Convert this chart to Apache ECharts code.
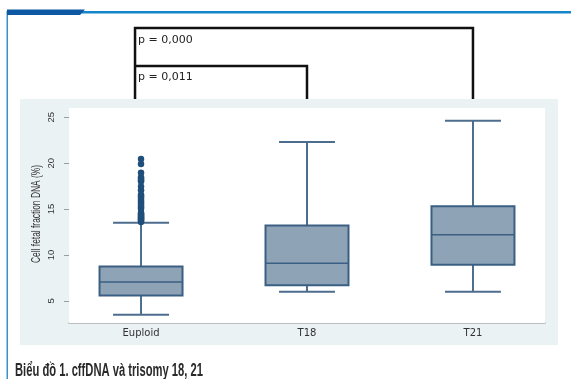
<!DOCTYPE html>
<html>
<head>
<meta charset="utf-8">
<script src="https://cdn.jsdelivr.net/npm/echarts@6/dist/echarts.min.js"></script>
<style>html,body{margin:0;padding:0;background:#fff;}#c{width:571px;height:379px;}</style>
</head>
<body>
<div id="c"></div>
<script>
// ---- data ----
const categories = ['Euploid', 'T18', 'T21'];
const categoryPos = [1, 2, 3];
// [min, Q1, median, Q3, max]
const euploidBox = [3.5, 5.6, 7.05, 8.75, 13.5];
const t18Box = [6.0, 6.7, 9.1, 13.2, 22.3];
const t21Box = [6.0, 8.95, 12.2, 15.3, 24.6];
const euploidOutliers = [13.6, 13.7, 13.8, 13.9, 14.0, 14.1, 14.2, 14.3, 14.4, 14.5, 14.6,
  15.0, 15.2, 15.4, 15.6, 15.8, 16.0, 16.2, 16.4, 16.55, 17.05, 17.45, 18.0, 18.15, 18.3, 18.45, 18.95, 19.9, 20.45];
const yTicks = [5, 10, 15, 20, 25];
const pValues = ['p = 0,000', 'p = 0,011'];
const yTitle = 'Cell fetal fraction DNA (%)';
const caption = 'Biểu đồ 1. cffDNA và trisomy 18, 21';

const boxes = [euploidBox, t18Box, t21Box];
const boxData = boxes.map((b, i) => [categoryPos[i]].concat(b));
const outlierData = euploidOutliers.map(v => [categoryPos[0], v]);

const chart = echarts.init(document.getElementById('c'), null, {renderer: 'canvas'});

const BOX_FILL = '#8ea3b6', BOX_LINE = '#3a5f82', WHISK = '#4c6d8e';

function renderBox(params, api) {
  const x = api.value(0);
  const lo = api.coord([x, api.value(1)]);
  const q1 = api.coord([x, api.value(2)]);
  const md = api.coord([x, api.value(3)]);
  const q3 = api.coord([x, api.value(4)]);
  const hi = api.coord([x, api.value(5)]);
  const bw = api.size([0.5, 0])[0];
  const cw = api.size([0.337, 0])[0];
  const cx = lo[0];
  return {
    type: 'group',
    children: [
      {type: 'line', shape: {x1: cx, y1: hi[1], x2: cx, y2: q3[1]}, style: {stroke: WHISK, lineWidth: 2}},
      {type: 'line', shape: {x1: cx, y1: q1[1], x2: cx, y2: lo[1]}, style: {stroke: WHISK, lineWidth: 2}},
      {type: 'line', shape: {x1: cx - cw / 2, y1: hi[1], x2: cx + cw / 2, y2: hi[1]}, style: {stroke: WHISK, lineWidth: 2}},
      {type: 'line', shape: {x1: cx - cw / 2, y1: lo[1], x2: cx + cw / 2, y2: lo[1]}, style: {stroke: WHISK, lineWidth: 2}},
      {type: 'rect', shape: {x: cx - bw / 2, y: q3[1], width: bw, height: q1[1] - q3[1]}, style: {fill: BOX_FILL, stroke: BOX_LINE, lineWidth: 2}},
      {type: 'line', shape: {x1: cx - bw / 2, y1: md[1], x2: cx + bw / 2, y2: md[1]}, style: {stroke: BOX_LINE, lineWidth: 1.5}}
    ]
  };
}

const option = {
  animation: false,
  grid: {left: 69, top: 108, right: 26, bottom: 56, show: true, backgroundColor: '#ffffff', borderWidth: 0, z: 1},
  xAxis: {
    type: 'value', min: 0.566, max: 3.434,
    axisLine: {show: true, lineStyle: {color: '#a9adb0', width: 1.5}},
    axisTick: {show: false},
    splitLine: {show: false},
    axisLabel: {customValues: categoryPos, formatter: v => categories[Math.round(v) - 1] || '',
      fontFamily: 'DejaVu Sans', fontSize: 10, color: '#333', margin: 5}
  },
  yAxis: {
    type: 'value', min: 2.6, max: 26.0,
    axisLine: {show: false},
    axisTick: {show: true, customValues: yTicks, length: 5, lineStyle: {color: '#9a9ea2'}},
    axisLabel: {customValues: yTicks, rotate: 90, fontFamily: 'Liberation Sans', fontSize: 9.5, color: '#333', margin: 13},
    splitLine: {show: true, showMinLine: false, showMaxLine: false, lineStyle: {color: '#edf3f4', width: 1}}
  },
  series: [
    {type: 'custom', renderItem: renderBox, data: boxData, encode: {x: 0, y: [1, 2, 3, 4, 5]}, z: 3},
    {type: 'scatter', data: outlierData, symbol: 'circle', symbolSize: 6.5,
      itemStyle: {color: '#1f4e7a', opacity: 1}, z: 4}
  ]
};
chart.setOption(option);

// measure text to compress it like the condensed fonts of the original
const mctx = document.createElement('canvas').getContext('2d');
function fitScale(text, font, target) {
  mctx.font = font;
  const w = mctx.measureText(text).width;
  return w > 0 ? target / w : 1;
}
const capFont = 'bold 18px "Liberation Sans"';
const capScale = fitScale(caption, capFont, 188);
const titleFont = '12px "Liberation Sans"';
const titleScale = fitScale(yTitle, titleFont, 98);

// annotation graphics (brackets anchored to category positions)
const topY = 99;
const xE = chart.convertToPixel({gridIndex: 0}, [categoryPos[0], 10])[0] - 6;
const x18 = chart.convertToPixel({gridIndex: 0}, [categoryPos[1], 10])[0];
const x21 = chart.convertToPixel({gridIndex: 0}, [categoryPos[2], 10])[0];
const bracketStyle = {stroke: '#111', lineWidth: 2.5, fill: null};

chart.setOption({
  graphic: [
    {type: 'rect', z: -100, shape: {x: 20, y: 99, width: 538, height: 246}, style: {fill: '#eaf2f3'}},
    {type: 'rect', z: 10, shape: {x: 7, y: 11, width: 564, height: 2.5}, style: {fill: '#1486c9'}},
    {type: 'polygon', z: 11, shape: {points: [[7, 9.5], [85, 9.5], [80, 15], [7, 15]]}, style: {fill: '#0d58a3'}},
    {type: 'rect', z: 10, shape: {x: 6.5, y: 11, width: 1.5, height: 368}, style: {fill: '#3b8fcb'}},
    {type: 'polyline', z: 10, shape: {points: [[xE, topY], [xE, 28], [x21, 28], [x21, topY]]}, style: bracketStyle},
    {type: 'polyline', z: 10, shape: {points: [[xE, 66], [x18, 66], [x18, topY]]}, style: bracketStyle},
    {type: 'text', z: 10, x: xE + 3, y: 40, style: {text: pValues[0], fontFamily: 'DejaVu Sans', fontSize: 11, fill: '#222', verticalAlign: 'middle'}},
    {type: 'text', z: 10, x: xE + 3, y: 77, style: {text: pValues[1], fontFamily: 'DejaVu Sans', fontSize: 11, fill: '#222', verticalAlign: 'middle'}},
    {type: 'text', z: 10, x: 37, y: 214, rotation: Math.PI / 2, scaleX: titleScale,
      style: {text: yTitle, font: titleFont, fill: '#333', align: 'center', verticalAlign: 'middle'}},
    {type: 'text', z: 10, x: 15, y: 371, scaleX: capScale,
      style: {text: caption, font: capFont, fill: '#2a2a2a', verticalAlign: 'middle'}}
  ]
});
</script>
</body>
</html>
